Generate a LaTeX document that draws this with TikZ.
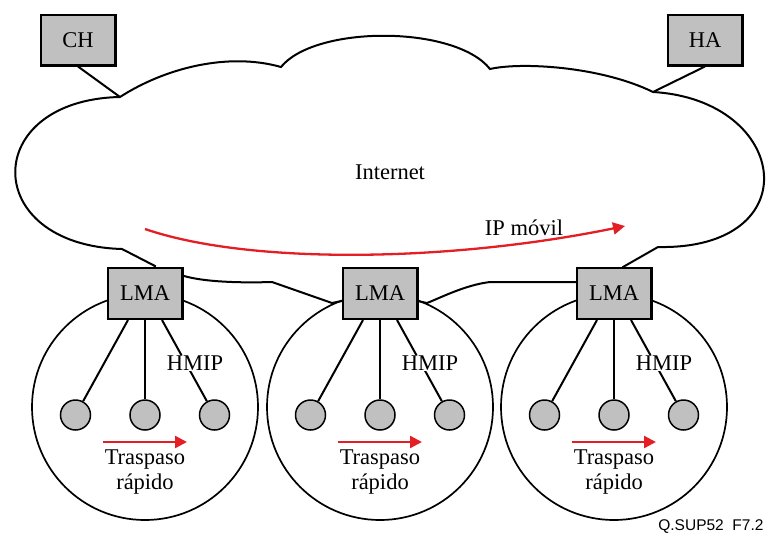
\documentclass[tikz,border=0pt]{standalone}
\usepackage{fontspec}
\setmainfont{Liberation Serif}
\newfontfamily\figsans{Liberation Sans}
\usepackage{xcolor}
\usepackage{tikz}
\usetikzlibrary{positioning,arrows.meta}
\definecolor{boxgray}{RGB}{192,192,192}
\definecolor{arrred}{RGB}{227,30,36}

\begin{document}
\begin{tikzpicture}[x=1pt,y=-1pt,
		font=\fontsize{22.5}{25}\selectfont,
		box/.style={draw,fill=boxgray,line width=2.4pt,minimum width=74.6pt,minimum height=50.6pt,inner sep=0pt},
		host/.style={circle,draw,fill=boxgray,line width=1.5pt,minimum size=30pt,inner sep=0pt},
		cell/.style={circle,draw,line width=1.7pt,minimum size=226pt,inner sep=0pt},
		link/.style={line width=2pt},
		redarrow/.style={draw=arrred,line width=2.3pt,-{Triangle[length=12pt,width=12pt]},color=arrred}]
	\useasboundingbox (0,0) rectangle (770,538);
	% cloud cusps
	\coordinate (ca) at (120,97);
	\coordinate (cb) at (281,67);
	\coordinate (cc) at (490,69);
	\coordinate (cd) at (653,92);
	\coordinate (ce) at (658,247);
	\coordinate (cf) at (490,282);
	\coordinate (cg) at (272,282);
	\coordinate (ch) at (122,249);
	\draw[line width=2pt] (ca) .. controls (165,68) and (228,52) .. (cb)
		.. controls (315,25) and (455,25) .. (cc)
		.. controls (520,62) and (600,66) .. (cd)
		.. controls (790,100) and (810,250) .. (ce)
		-- (623,267) -- (614,293) -- (576,282) -- (cf)
		.. controls (465,285) and (440,298) .. (427,303)
		-- (380,293) -- (332,303) -- (cg)
		.. controls (240,283) and (205,282) .. (184,276)
		-- (145,293) -- (155,266) -- (ch)
		.. controls (-20,245) and (-20,100) .. (ca) -- cycle;
	\node (inet) at (390,172) {Internet};
	\node (ip) at (524,228) {IP móvil};
	\draw[redarrow] (145,229) .. controls (250,265) and (450,262) .. (625,226);
	\node[box] (chbox) at (78,40) {CH};
	\node[box] (habox) at (705,40) {HA};
	\draw[link] (chbox.south) -- (ca);
	\draw[link] (habox.south) -- (cd);
	\foreach \i/\x in {1/145,2/380,3/614}{
		\node[cell] (c\i) at (\x,407) {};
		\node[box] (lma\i) at (\x,293.5) {LMA};
		\node[host] (h\i-2) at (\x,415) {};
		\node[host,left=38pt of h\i-2] (h\i-1) {};
		\node[host,right=38pt of h\i-2] (h\i-3) {};
		\draw[link] ([xshift=-17pt]lma\i.south) -- (h\i-1);
		\draw[link] (lma\i.south) -- (h\i-2);
		\draw[link] ([xshift=17pt]lma\i.south) -- (h\i-3);
		\node[fill=white,inner sep=1pt] (hm\i) at (\x+50,363) {HMIP};
		\node[align=center,inner sep=0pt] (tr\i) at (\x,472) {Traspaso\\rápido};
		\coordinate (s\i) at (\x-42,442);
		\coordinate (e\i) at (\x+42,442);
		\draw[redarrow] (s\i) -- (e\i);
	}
	\node[anchor=east,font=\figsans\fontsize{15.5}{18}\selectfont] (tag) at (767,527) {Q.SUP52\ \ F7.2};
\end{tikzpicture}
\end{document}
